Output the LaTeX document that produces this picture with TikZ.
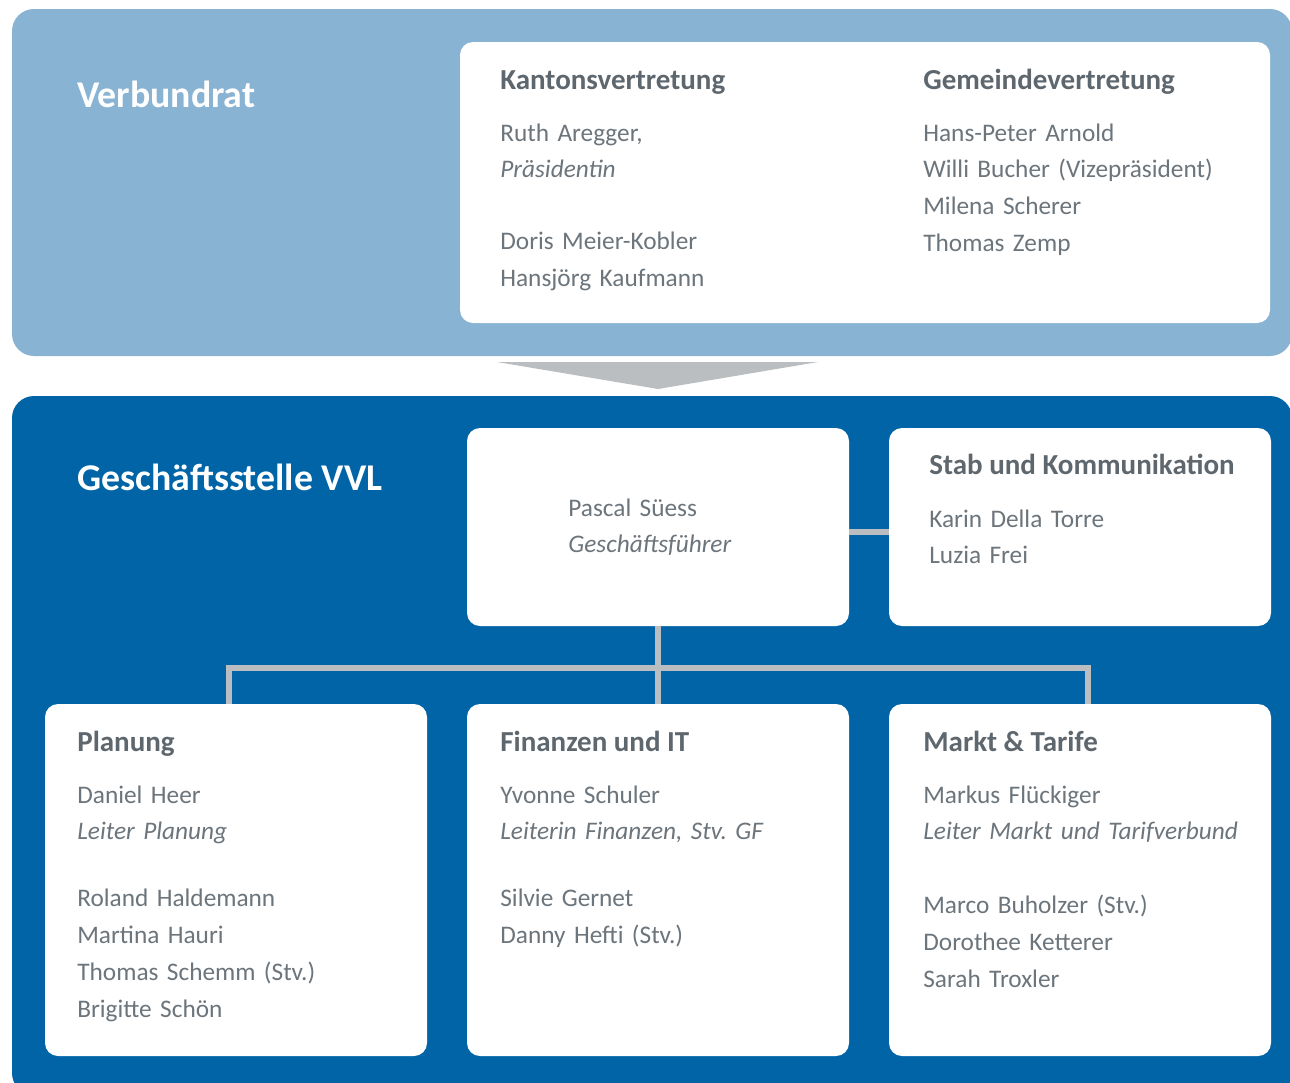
\documentclass[tikz,border=0pt]{standalone}
\usepackage{fontspec}
\setmainfont{Carlito}
\frenchspacing
\usetikzlibrary{positioning,fit}
\definecolor{boardblue}{HTML}{89B3D3}
\definecolor{officeblue}{HTML}{0064A6}
\definecolor{linkgray}{HTML}{BBBEC1}
\definecolor{namegray}{HTML}{6C757C}
\definecolor{headgray}{HTML}{5E676E}
\tikzset{
  panel/.style={rounded corners=.44cm,inner sep=0pt},
  card/.style={fill=white,rounded corners=.26cm,inner sep=0pt},
  bigtitle/.style={text=white,font=\bfseries\fontsize{21.5pt}{25pt}\selectfont,anchor=base west,inner sep=0pt},
  cardtitle/.style={text=headgray,font=\bfseries\fontsize{16.5pt}{20pt}\selectfont,anchor=base west,inner sep=0pt},
  names/.style={text=namegray,font=\fontsize{14.4pt}{21.05pt}\selectfont,text width=8cm,align=left,anchor=base west,inner sep=0pt},
  link/.style={draw=linkgray,line width=.12cm},
}

\begin{document}
\begin{tikzpicture}[x=.02cm,y=-.02cm]
  \useasboundingbox (0,0) rectangle (1290,1082);
  \clip (0,0) rectangle (1290,1082);

  % Verbundrat
  \node[panel,fill=boardblue,fit={(12,9) (1292,356)}] (board) {};
  \node[card,fit={(460,42) (1270,323)}] (boardcard) {};
  \node[bigtitle] (boardtitle) at (77,107) {Verbundrat};

  \node[cardtitle] (kanton) at (500,89) {Kantonsvertretung};
  \node[names] (kantonnames) at (500,141)
    {Ruth Aregger,\\\textit{Präsidentin}\\[.7cm]Doris Meier-Kobler\\Hansjörg Kaufmann};

  \node[cardtitle] (gemeinde) at (923,89) {Gemeindevertretung};
  \node[names] (gemeindenames) at (923,141)
    {Hans-Peter Arnold\\Willi Bucher (Vizepräsident)\\Milena Scherer\\Thomas Zemp};

  % wedge between the two panels
  \fill[linkgray] (497,362) -- (818,362) -- (658,389) -- cycle;

  % Geschaeftsstelle
  \node[panel,fill=officeblue,fit={(12,396) (1292,1095)}] (office) {};
  \node[bigtitle] (officetitle) at (77,490) {Geschäftsstelle VVL};

  \node[card,fit={(467,428) (849,626)}] (lead) {};
  \node[card,fit={(889,428) (1271,626)}] (staff) {};
  \node[card,fit={(45,704) (427,1056)}] (plan) {};
  \node[card,fit={(467,704) (849,1056)}] (fin) {};
  \node[card,fit={(889,704) (1271,1056)}] (market) {};

  \coordinate (bus) at (658,668);
  \draw[link] ([yshift=-.1cm]lead.east) -- ([yshift=-.1cm]staff.west);
  \draw[link] (lead.south) -- (fin.north);
  \draw[link] ([xshift=-.14cm]plan.north) |- (bus) -| ([xshift=.16cm]market.north);

  \node[names] (leadnames) at (568,516)
    {Pascal Süess\\\textit{Geschäftsführer}};

  \node[cardtitle] (stafftitle) at (929,474) {Stab und Kommunikation};
  \node[names] (staffnames) at (929,527)
    {Karin Della Torre\\Luzia Frei};

  \node[cardtitle] (plantitle) at (77,751) {Planung};
  \node[names] (plannames) at (77,803)
    {Daniel Heer\\\textit{Leiter Planung}\\[.6cm]Roland Haldemann\\Martina Hauri\\Thomas Schemm (Stv.)\\Brigitte Schön};

  \node[cardtitle] (fintitle) at (500,751) {Finanzen und IT};
  \node[names] (finnames) at (500,803)
    {Yvonne Schuler\\\textit{Leiterin Finanzen, Stv. GF}\\[.6cm]Silvie Gernet\\Danny Hefti (Stv.)};

  \node[cardtitle] (markettitle) at (923,751) {Markt \& Tarife};
  \node[names] (marketnames) at (923,803)
    {Markus Flückiger\\\textit{Leiter Markt und Tarifverbund}\\[.74cm]Marco Buholzer (Stv.)\\Dorothee Ketterer\\Sarah Troxler};
\end{tikzpicture}
\end{document}
